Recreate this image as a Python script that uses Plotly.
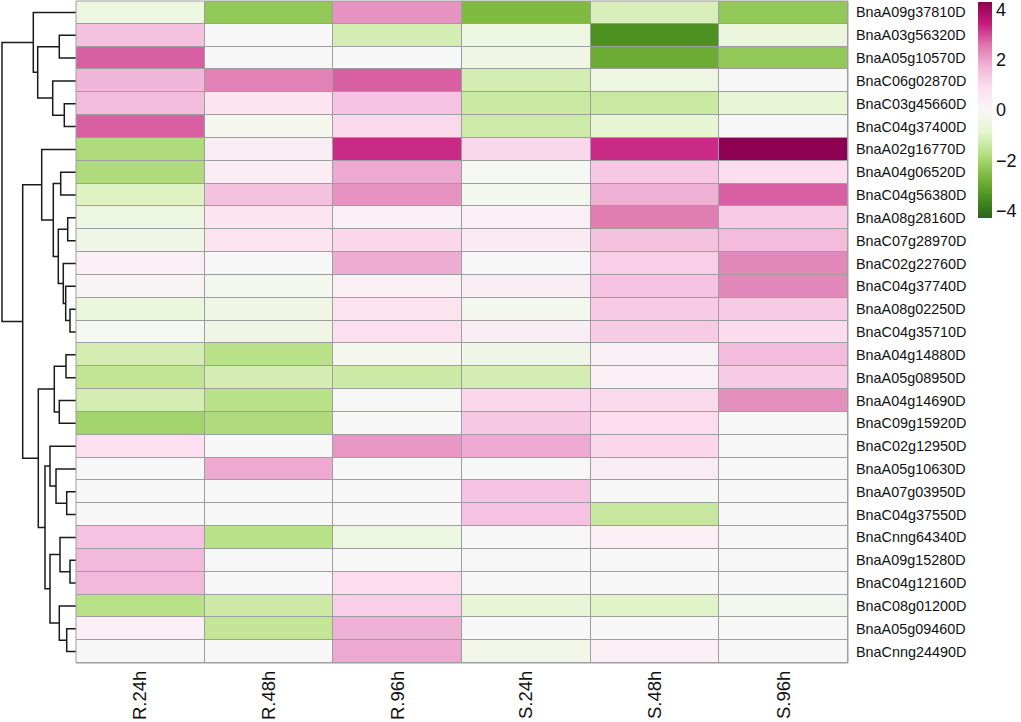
import plotly.graph_objects as go

genes = ["BnaA09g37810D", "BnaA03g56320D", "BnaA05g10570D", "BnaC06g02870D",
         "BnaC03g45660D", "BnaC04g37400D", "BnaA02g16770D", "BnaA04g06520D",
         "BnaC04g56380D", "BnaA08g28160D", "BnaC07g28970D", "BnaC02g22760D",
         "BnaC04g37740D", "BnaA08g02250D", "BnaC04g35710D", "BnaA04g14880D",
         "BnaA05g08950D", "BnaA04g14690D", "BnaC09g15920D", "BnaC02g12950D",
         "BnaA05g10630D", "BnaA07g03950D", "BnaC04g37550D", "BnaCnng64340D",
         "BnaA09g15280D", "BnaC04g12160D", "BnaC08g01200D", "BnaA05g09460D",
         "BnaCnng24490D"]
samples = ["R.24h", "R.48h", "R.96h", "S.24h", "S.48h", "S.96h"]

values = [
    [-0.5, -2.3, 2.2, -2.6, -1.1, -2.3],
    [1.5, 0.0, -1.2, -0.5, -3.45, -0.6],
    [2.8, 0.0, 0.0, -0.4, -2.9, -2.3],
    [1.7, 2.45, 2.8, -1.2, -0.5, 0.0],
    [1.6, 0.7, 1.45, -1.4, -1.4, -0.7],
    [2.8, -0.2, 1.0, -1.3, -0.8, 0.0],
    [-1.85, 0.4, 3.3, 1.05, 3.3, 4.3],
    [-1.85, 0.4, 1.9, -0.1, 1.35, 0.9],
    [-1.0, 1.5, 2.2, -0.2, 1.8, 2.8],
    [-0.5, 0.7, 0.3, 0.3, 2.5, 1.3],
    [-0.4, 0.7, 1.05, 0.5, 1.5, 1.6],
    [0.3, 0.0, 1.85, 0.0, 1.2, 2.35],
    [0.1, -0.2, 0.3, 0.35, 1.45, 2.35],
    [-0.6, -0.4, 0.8, -0.2, 1.3, 1.3],
    [-0.1, -0.4, 0.86, 0.35, 1.3, 0.95],
    [-1.2, -1.7, -0.2, -0.35, 0.25, 1.6],
    [-1.55, -1.2, -1.35, -1.2, 0.3, 1.3],
    [-1.2, -1.7, -0.05, 1.05, 1.0, 2.25],
    [-2.05, -1.85, 0.0, 1.35, 0.95, 0.0],
    [0.86, 0.0, 2.15, 1.9, 1.05, 0.0],
    [0.0, 1.9, 0.0, 0.0, 0.4, 0.0],
    [0.0, 0.0, 0.0, 1.45, 0.0, 0.0],
    [0.0, 0.0, 0.0, 1.45, -1.45, 0.0],
    [1.45, -1.7, -0.5, 0.0, 0.3, 0.0],
    [1.65, 0.0, 0.0, 0.0, 0.0, 0.0],
    [1.65, 0.0, 0.95, 0.0, 0.0, 0.0],
    [-1.7, -1.35, 1.2, -0.7, -0.95, -0.15],
    [0.3, -1.5, 1.8, 0.0, 0.0, 0.0],
    [0.0, 0.0, 1.9, -0.3, 0.3, 0.0],
]

# Row dendrogram: (left, right, height); leaves are 0..28, merges numbered 29.. in order
merges = [
    (1, 2, 16.7), (4, 5, 11.7), (3, 30, 23.3), (29, 31, 38.3), (0, 32, 42.7),
    (7, 8, 15.3), (9, 10, 8.3), (13, 14, 6.0), (12, 36, 10.3), (11, 37, 12.7),
    (35, 38, 17.7), (34, 39, 22.7), (6, 40, 34.3),
    (15, 16, 10.0), (17, 18, 16.7), (42, 43, 21.7),
    (21, 22, 9.3), (20, 45, 20.0), (19, 46, 26.0),
    (24, 25, 6.0), (23, 48, 16.0), (27, 28, 9.3), (26, 50, 16.7), (49, 51, 26.0),
    (47, 52, 31.0), (44, 53, 37.7), (41, 54, 53.3), (33, 55, 74.0),
]

PiYG_r = ["#276419", "#4d9221", "#7fbc41", "#b8e186", "#e6f5d0", "#f7f7f7",
          "#fde0ef", "#f1b6da", "#de77ae", "#c51b7d", "#8e0152"]
colorscale = [[i / (len(PiYG_r) - 1), c] for i, c in enumerate(PiYG_r)]

W, H = 1021, 722
n_leaves = len(genes)

# dendrogram geometry from tree
pos = {i: float(i) for i in range(n_leaves)}
hgt = {i: 0.0 for i in range(n_leaves)}
dx, dy = [], []
for k, (a, b, h) in enumerate(merges):
    nid = n_leaves + k
    pos[nid] = (pos[a] + pos[b]) / 2
    hgt[nid] = h
    dx += [hgt[a], h, h, hgt[b], None]
    dy += [pos[a], pos[a], pos[b], pos[b], None]

FONT = "Liberation Sans, Arial"

fig = go.Figure()
fig.add_trace(go.Heatmap(
    z=values, x=list(range(len(samples))), y=list(range(n_leaves)),
    colorscale=colorscale, zmin=-4.3, zmax=4.3, xgap=1, ygap=1,
    colorbar=dict(
        x=978 / W, xanchor="left", xpad=0, ypad=0,
        y=(H - 110) / H, yanchor="middle", len=216, lenmode="pixels",
        thickness=14, outlinewidth=0, ticks="", ticklabeloverflow="allow",
        tickvals=[-4, -2, 0, 2, 4],
        tickfont=dict(family=FONT, size=18, color="#111"),
    ),
    hoverinfo="skip",
))
fig.add_trace(go.Scatter(
    x=dx, y=dy, xaxis="x2", yaxis="y", mode="lines",
    line=dict(color="#1a1a1a", width=1.5), hoverinfo="skip", showlegend=False,
))

x0p, x1p = 76, 848
ytop, ybot = 1, 663
fig.update_layout(
    width=W, height=H, margin=dict(l=0, r=0, t=0, b=0),
    paper_bgcolor="white", plot_bgcolor="white", showlegend=False,
    xaxis=dict(domain=[x0p / W, x1p / W], range=[-0.5, len(samples) - 0.5],
               tickvals=list(range(len(samples))), ticktext=samples,
               tickangle=-90, ticks="", showgrid=False, zeroline=False,
               ticklabelstandoff=3, anchor="y",
               tickfont=dict(family=FONT, size=18.5, color="#111")),
    yaxis=dict(domain=[(H - ybot) / H, (H - ytop) / H],
               range=[n_leaves - 0.5, -0.5], side="right", anchor="x",
               tickvals=list(range(n_leaves)), ticktext=genes, ticks="",
               showgrid=False, zeroline=False, ticklabelstandoff=7,
               tickfont=dict(family=FONT, size=14.4, color="#111")),
    xaxis2=dict(domain=[0, x0p / W], range=[x0p, 0], anchor="y",
                showticklabels=False, showgrid=False, zeroline=False, ticks=""),
    shapes=[
        dict(type="rect", xref="x domain", yref="y domain", x0=0, x1=1, y0=0, y1=1,
             fillcolor="#9e9e9e", line=dict(width=0), layer="below"),
        dict(type="rect", xref="x domain", yref="y domain", x0=0, x1=1, y0=0, y1=1,
             fillcolor="rgba(0,0,0,0)", line=dict(color="#9e9e9e", width=1), layer="above"),
    ],
)

fig.write_html("out.html", config={"displayModeBar": False, "staticPlot": True},
               post_script="document.body.style.margin='0';document.body.style.padding='0';")
